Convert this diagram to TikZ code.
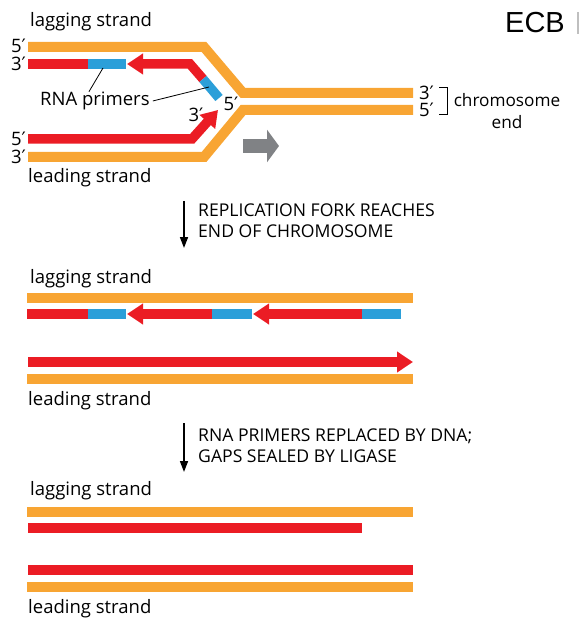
\documentclass[tikz,border=0pt]{standalone}
\usepackage{xcolor}
\usepackage{fontspec}
\setmainfont{Open Sans}
\newfontfamily\ecbfont{Liberation Sans}
\newfontfamily\primefont{DejaVu Sans}
\newcommand{\pr}{{\primefont ′}}
\usepackage{tikz}
\usetikzlibrary{arrows.meta,positioning}
\definecolor{tmpl}{HTML}{F8A533}
\definecolor{newdna}{HTML}{EB1C24}
\definecolor{primer}{HTML}{2B9FD9}
\definecolor{fork}{HTML}{808285}

\begin{document}
\begin{tikzpicture}[x=1pt,y=-1pt,
  lbl/.style={font=\fontsize{18.5}{22}\selectfont,inner sep=0pt},
  caps/.style={font=\fontsize{17.6}{21}\selectfont,align=left,anchor=north west,inner sep=0pt},
  old/.style={tmpl,line width=10pt},
  new/.style={newdna,line width=9.5pt},
  rna/.style={primer,line width=9.5pt},
  head/.style={-{Triangle[length=16pt,width=20pt]}},
  ptr/.style={black,line width=.8pt},
  stagearrow/.style={black,line width=1.6pt,-{Triangle[length=11pt,width=8pt]}}]
  \useasboundingbox (0,0) rectangle (580,636);

  % replication fork
  \draw[old] (28,47) -- (204,47) -- (243,93) -- (413,93);
  \draw[old] (28,157) -- (204,157) -- (243,110) -- (413,110);
  \draw[new] (28,64) -- (88,64);
  \draw[rna] (88,64) -- (126,64);
  \draw[new,head] (203,79) -- (190,64) -- (127,64);
  \draw[rna] (203,79) -- (219,98);
  \draw[new,head] (28,139) -- (192,139) -- (218,110);
  \draw[fork,line width=14pt,-{Triangle[length=12pt,width=32pt]}] (243,146) -- (279,146);

  \node[lbl,anchor=west] (lag1) at (30,22) {lagging strand};
  \node[lbl,anchor=west] (lead1) at (28,178) {leading strand};
  \node[lbl,anchor=east] (e1) at (26,46) {5\pr};
  \node[lbl,anchor=east] (e2) at (26,64) {3\pr};
  \node[lbl,anchor=east] (e3) at (26,139) {5\pr};
  \node[lbl,anchor=east] (e4) at (26,157) {3\pr};
  \node[lbl] (f5) at (231,104) {5\pr};
  \node[lbl] (f3) at (196,115) {3\pr};
  \node[lbl,anchor=east] (c3) at (434,93) {3\pr};
  \node[lbl,anchor=east] (c5) at (434,110) {5\pr};
  \node[lbl,font=\fontsize{17.2}{22}\selectfont,align=center] (chr) at (507,111) {chromosome\\end};

  \node[lbl,anchor=west] (prm) at (40,101) {RNA primers};
  \coordinate (pa) at (103,68);
  \coordinate (pb) at (209,87);
  \draw[ptr] ([xshift=-6pt]prm.north) -- (pa);
  \draw[ptr] ([xshift=3pt]prm.east) -- (pb);

  \draw[black,line width=1pt] (439,88) -- (447,88) -- (447,115) -- (439,115);

  \node[font=\ecbfont\fontsize{29}{30}\selectfont,inner sep=0pt] (ecb) at (535,23) {ECB};
  \draw[gray!50,line width=1.5pt] (578,12) -- (578,34);

  % fork reaches the end
  \coordinate (a1) at (184,201);
  \coordinate (a2) at (184,248);
  \draw[stagearrow] (a1) -- (a2);
  \node[caps] (s1) at (198,204) {REPLICATION FORK REACHES\\END OF CHROMOSOME};

  \node[lbl,anchor=west] (lag2) at (30,279) {lagging strand};
  \draw[old] (27,298) -- (413,298);
  \draw[new] (27,314) -- (88,314);
  \draw[rna] (88,314) -- (126,314);
  \draw[new,head] (212,314) -- (127,314);
  \draw[rna] (212,314) -- (252,314);
  \draw[new,head] (362,314) -- (253,314);
  \draw[rna] (362,314) -- (401,314);
  \draw[new,head] (28,362) -- (413,362);
  \draw[old] (27,379) -- (413,379);
  \node[lbl,anchor=west] (lead2) at (28,401) {leading strand};

  % primers replaced
  \coordinate (b1) at (184,423);
  \coordinate (b2) at (184,472);
  \draw[stagearrow] (b1) -- (b2);
  \node[caps] (s2) at (198,429) {RNA PRIMERS REPLACED BY DNA;\\GAPS SEALED BY LIGASE};

  \node[lbl,anchor=west] (lag3) at (30,491) {lagging strand};
  \draw[old] (27,512) -- (413,512);
  \draw[new] (28,528) -- (362,528);
  \draw[new] (28,570) -- (413,570);
  \draw[old] (27,587) -- (413,587);
  \node[lbl,anchor=west] (lead3) at (28,609) {leading strand};
\end{tikzpicture}
\end{document}
